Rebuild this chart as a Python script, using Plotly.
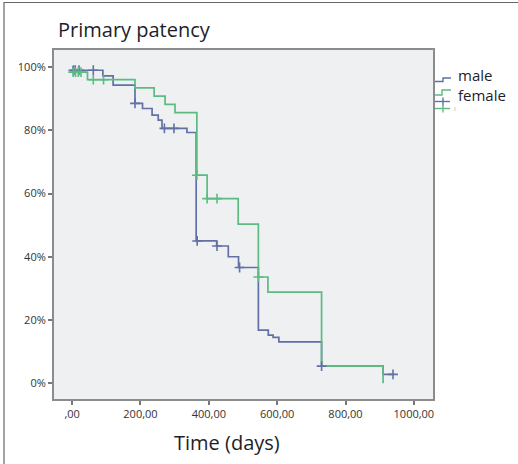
import numpy as np
import plotly.graph_objects as go

# ---- data ----
male_t = [0, 3, 90, 120, 184, 206, 234, 252, 263, 336, 363, 423, 457, 487, 545, 574, 588, 605, 730, 910, 939]
male_s = [100, 99.0, 97.2, 94.3, 88.5, 86.9, 84.8, 83.2, 80.6, 79.3, 45.0, 43.4, 40.0, 36.6, 16.8, 15.2, 14.5, 13.1, 5.4, 2.8, 2.8]
male_cens = [4, 9, 20, 62, 184, 270, 298, 366, 424, 490, 730, 939]

female_t = [0, 2, 45, 184, 240, 272, 301, 365, 395, 486, 545, 573, 730, 910]
female_s = [100, 98.4, 96.0, 93.4, 90.8, 88.2, 85.6, 65.8, 58.4, 50.3, 33.6, 28.8, 5.4, 0.0]
female_cens = [3, 10, 18, 26, 62, 92, 365, 395, 424, 545]

x_ticks = [0, 200, 400, 600, 800, 1000]
x_tick_labels = [",00", "200,00", "400,00", "600,00", "800,00", "1000,00"]
y_ticks = [0, 20, 40, 60, 80, 100]
y_tick_labels = ["0%", "20%", "40%", "60%", "80%", "100%"]

BLUE = "#6270a6"
GREEN = "#5cba83"


def step_at(ts, ss, t):
    ts = np.asarray(ts)
    i = np.searchsorted(ts, t, side="right") - 1
    return float(np.asarray(ss)[max(i, 0)])


fig = go.Figure()
fig.add_trace(go.Scatter(x=male_t, y=male_s, mode="lines", line_shape="hv",
                         line=dict(color=BLUE, width=1.7), showlegend=False))
fig.add_trace(go.Scatter(x=female_t, y=female_s, mode="lines", line_shape="hv",
                         line=dict(color=GREEN, width=1.7), showlegend=False))
fig.add_trace(go.Scatter(x=male_cens, y=[step_at(male_t, male_s, t) for t in male_cens],
                         mode="markers",
                         marker=dict(symbol="cross-thin", size=7, line=dict(color=BLUE, width=1.6)),
                         showlegend=False))
fig.add_trace(go.Scatter(x=female_cens, y=[step_at(female_t, female_s, t) for t in female_cens],
                         mode="markers",
                         marker=dict(symbol="cross-thin", size=7, line=dict(color=GREEN, width=1.6)),
                         showlegend=False))

W, H = 518, 464
L, R, T, B = 54, 85, 50, 65
PW, PH = W - L - R, H - T - B


def px(x):
    return (x - L) / PW


def py(y):
    return (H - B - y) / PH


shapes = []
# outer frame (left + top)
shapes.append(dict(type="line", xref="paper", yref="paper", x0=px(4), x1=px(4), y0=py(2), y1=py(464),
                   line=dict(color="#666", width=1.2)))
shapes.append(dict(type="line", xref="paper", yref="paper", x0=px(4), x1=px(518), y0=py(2.5), y1=py(2.5),
                   line=dict(color="#666", width=1.2)))


def path_px(pts):
    return "M " + " L ".join(f"{px(a):.5f},{py(b):.5f}" for a, b in pts)


# legend glyphs
shapes.append(dict(type="path", xref="paper", yref="paper",
                   path=path_px([(435, 81.5), (443, 81.5), (443, 78), (451, 78)]),
                   line=dict(color=BLUE, width=1.4)))
shapes.append(dict(type="path", xref="paper", yref="paper",
                   path=path_px([(435, 95), (442, 95), (442, 90), (451, 90)]),
                   line=dict(color=GREEN, width=1.4)))
shapes.append(dict(type="line", xref="paper", yref="paper", x0=px(435), x1=px(450), y0=py(101.5), y1=py(101.5),
                   line=dict(color=BLUE, width=1.4)))
shapes.append(dict(type="line", xref="paper", yref="paper", x0=px(443), x1=px(443), y0=py(97.5), y1=py(105.5),
                   line=dict(color=BLUE, width=1.4)))
shapes.append(dict(type="line", xref="paper", yref="paper", x0=px(435), x1=px(450), y0=py(108.5), y1=py(108.5),
                   line=dict(color=GREEN, width=1.4)))
shapes.append(dict(type="line", xref="paper", yref="paper", x0=px(443), x1=px(443), y0=py(104.5), y1=py(112.5),
                   line=dict(color=GREEN, width=1.4)))

annotations = [
    dict(text="Primary patency", xref="paper", yref="paper", x=px(56), y=py(30),
         xanchor="left", yanchor="middle", showarrow=False,
         font=dict(family="Open Sans", size=20, color="#1e1e2a")),
    dict(text="Time (days)", xref="paper", yref="paper", x=px(227), y=py(442),
         xanchor="center", yanchor="middle", showarrow=False,
         font=dict(family="Open Sans", size=20, color="#1e1e2a")),
    dict(text="male", xref="paper", yref="paper", x=px(456), y=py(75),
         xanchor="left", yanchor="middle", showarrow=False,
         font=dict(family="Open Sans", size=15, color="#1e1e2a")),
    dict(text="female", xref="paper", yref="paper", x=px(456), y=py(95.5),
         xanchor="left", yanchor="middle", showarrow=False,
         font=dict(family="Open Sans", size=15, color="#1e1e2a")),
    dict(text="I", xref="paper", yref="paper", x=px(452), y=py(109),
         xanchor="left", yanchor="middle", showarrow=False,
         font=dict(family="Open Sans", size=6, color="#999")),
]

fig.update_layout(
    width=W, height=H,
    margin=dict(l=L, r=R, t=T, b=B),
    paper_bgcolor="white",
    plot_bgcolor="#eef0f2",
    shapes=shapes,
    annotations=annotations,
    showlegend=False,
)
fig.update_xaxes(range=[-53, 1056], tickvals=x_ticks, ticktext=x_tick_labels,
                 showgrid=False, zeroline=False, showline=True, mirror=True,
                 linecolor="#8c8c8c", linewidth=2, ticks="outside", ticklen=4, tickwidth=2,
                 tickcolor="#777", tickfont=dict(family="Open Sans", size=11, color="#333"))
fig.update_yaxes(range=[-5, 105.4], tickvals=y_ticks, ticktext=y_tick_labels,
                 showgrid=False, zeroline=False, showline=True, mirror=True,
                 linecolor="#8c8c8c", linewidth=2, ticks="outside", ticklen=4, tickwidth=2,
                 tickcolor="#777", tickfont=dict(family="Open Sans", size=11, color="#333"))

fig.write_html("out.html")
